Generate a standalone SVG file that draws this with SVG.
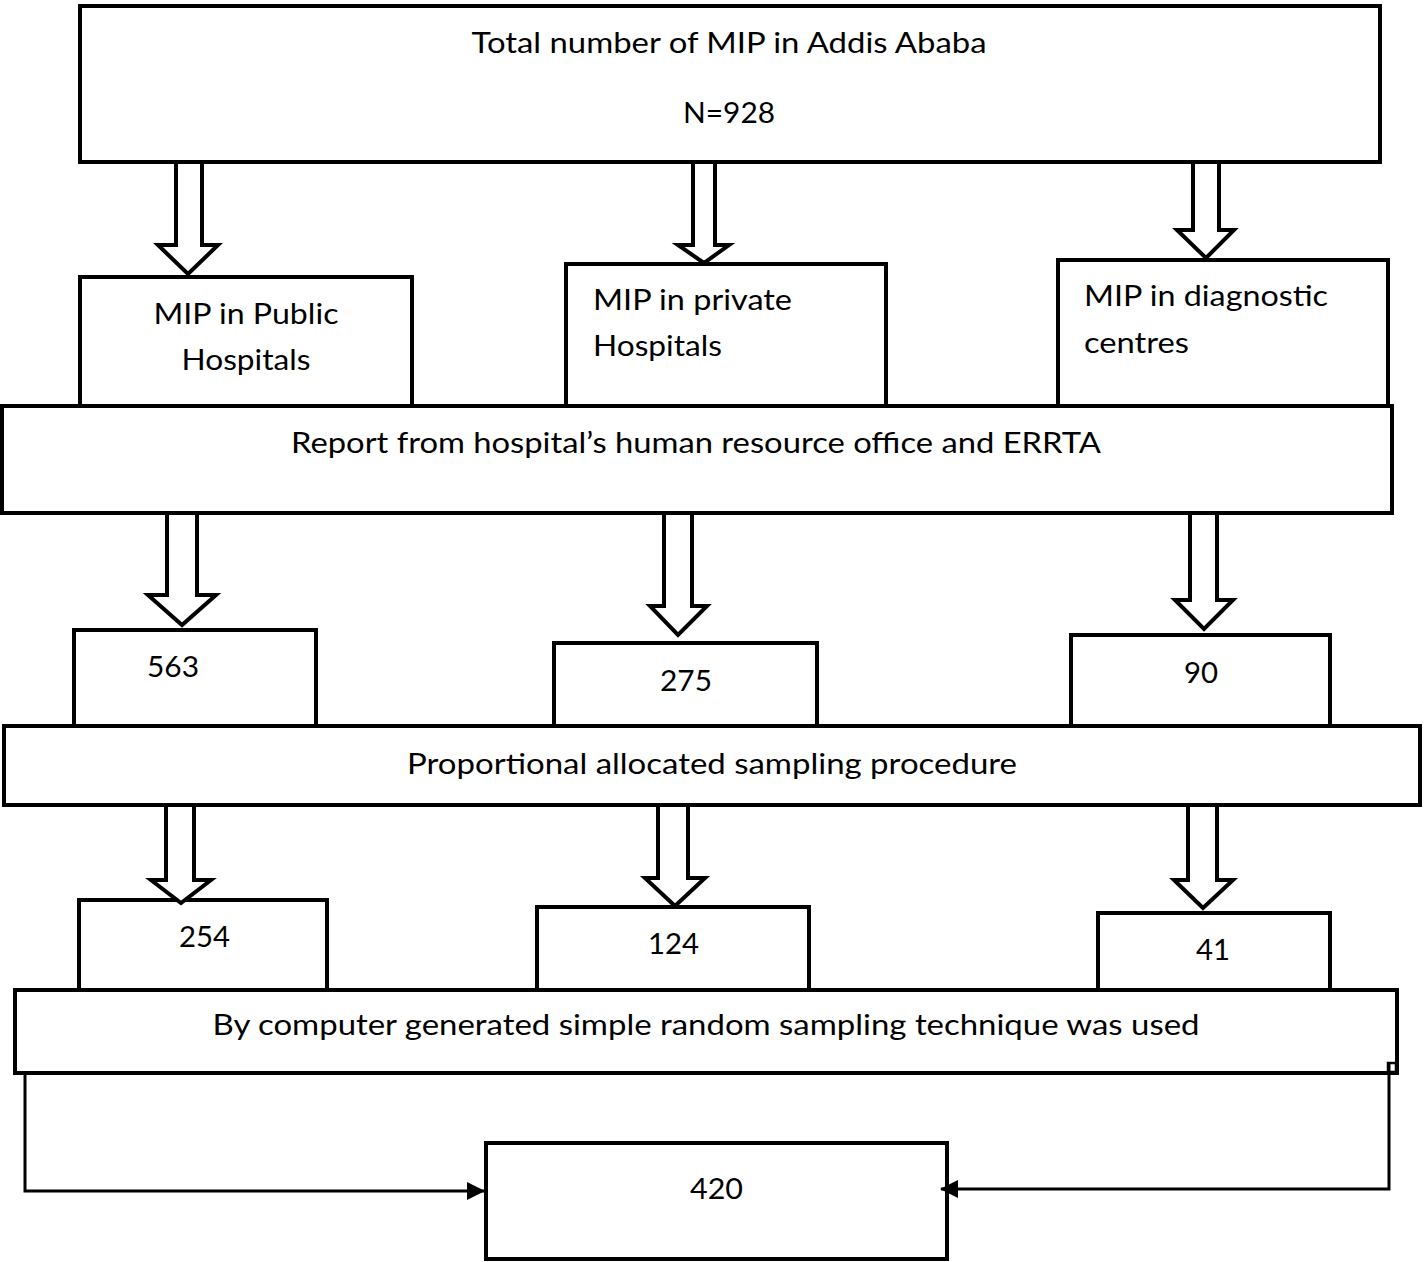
<svg xmlns="http://www.w3.org/2000/svg" width="1425" height="1262" viewBox="0 0 1425 1262">
<style>
.box{fill:#fff;stroke:#000;stroke-width:4}
.blk{fill:#fff;stroke:#000;stroke-width:4;stroke-linejoin:miter}
.ln{fill:none;stroke:#000;stroke-width:3}
text{font-family:Lato,"Open Sans","Liberation Sans",sans-serif;font-size:29px;fill:#000}
.c{text-anchor:middle}
</style>
<defs>
<marker id="ah" markerWidth="18" markerHeight="18" refX="17" refY="9" orient="auto" markerUnits="userSpaceOnUse">
<path d="M0,0 L18,9 L0,18 Z" fill="#000"/>
</marker>
</defs>
<rect width="1425" height="1262" fill="#fff"/>

<g id="top"><rect class="box" x="80" y="6" width="1300" height="156"/>
<text class="c" x="729" y="53" textLength="515" lengthAdjust="spacingAndGlyphs">Total number of MIP in Addis Ababa</text>
<text class="c" x="729" y="123" textLength="92" lengthAdjust="spacingAndGlyphs">N=928</text></g>

<g id="public"><rect class="box" x="80" y="277" width="332" height="130"/>
<text class="c" x="246" y="324" textLength="185" lengthAdjust="spacingAndGlyphs">MIP in Public</text>
<text class="c" x="246" y="370" textLength="129" lengthAdjust="spacingAndGlyphs">Hospitals</text></g>

<g id="private"><rect class="box" x="566" y="264" width="320" height="143"/>
<text x="593" y="310" textLength="199" lengthAdjust="spacingAndGlyphs">MIP in private</text>
<text x="593" y="356" textLength="129" lengthAdjust="spacingAndGlyphs">Hospitals</text></g>

<g id="diagnostic"><rect class="box" x="1058" y="260" width="330" height="146"/>
<text x="1084" y="306" textLength="244" lengthAdjust="spacingAndGlyphs">MIP in diagnostic</text>
<text x="1084" y="353" textLength="105" lengthAdjust="spacingAndGlyphs">centres</text></g>

<g id="report"><rect class="box" x="2" y="406" width="1390" height="107"/>
<text class="c" x="696" y="453" textLength="810" lengthAdjust="spacingAndGlyphs">Report from hospital’s human resource office and ERRTA</text></g>

<g id="n563"><rect class="box" x="74" y="630" width="242" height="97"/>
<text x="147" y="677" textLength="52" lengthAdjust="spacingAndGlyphs">563</text></g>
<g id="n275"><rect class="box" x="554" y="643" width="263" height="84"/>
<text x="660" y="691" textLength="52" lengthAdjust="spacingAndGlyphs">275</text></g>
<g id="n90"><rect class="box" x="1071" y="635" width="259" height="92"/>
<text x="1184" y="683" textLength="34" lengthAdjust="spacingAndGlyphs">90</text></g>

<g id="proportional"><rect class="box" x="4" y="726" width="1416" height="79"/>
<text class="c" x="712" y="774" textLength="610" lengthAdjust="spacingAndGlyphs">Proportional allocated sampling procedure</text></g>

<g id="n254"><rect class="box" x="79" y="900" width="248" height="91"/>
<text x="179" y="947" textLength="51" lengthAdjust="spacingAndGlyphs">254</text></g>
<g id="n124"><rect class="box" x="537" y="907" width="272" height="84"/>
<text x="648" y="954" textLength="51" lengthAdjust="spacingAndGlyphs">124</text></g>
<g id="n41"><rect class="box" x="1098" y="913" width="232" height="78"/>
<text x="1196" y="960" textLength="34" lengthAdjust="spacingAndGlyphs">41</text></g>

<g id="random"><rect class="box" x="15" y="990" width="1382" height="83"/>
<text class="c" x="706" y="1035" textLength="987" lengthAdjust="spacingAndGlyphs">By computer generated simple random sampling technique was used</text></g>

<g id="n420"><rect class="box" x="486" y="1143" width="461" height="116"/>
<text x="690" y="1199" textLength="53" lengthAdjust="spacingAndGlyphs">420</text></g>

<g id="connectors">
<polyline class="blk" points="176,164 176,245 158,245 188,274 218,245 202,245 202,164"/>
<polyline class="blk" points="693,164 693,245 678,245 704,263 729,245 715,245 715,164"/>
<polyline class="blk" points="1193,164 1193,230 1177,230 1206,258 1234,230 1219,230 1219,164"/>

<polyline class="blk" points="167,515 167,595 148,595 182,625 216,595 197,595 197,515"/>
<polyline class="blk" points="664,515 664,606 650,606 678,635 707,606 692,606 692,515"/>
<polyline class="blk" points="1190,515 1190,600 1175,600 1204,629 1233,600 1217,600 1217,515"/>

<polyline class="blk" points="166,807 166,880 151,880 181,903 211,880 194,880 194,807"/>
<polyline class="blk" points="658,807 658,878 645,878 675,906 705,878 688,878 688,807"/>
<polyline class="blk" points="1188,807 1188,880 1174,880 1203,908 1233,880 1217,880 1217,807"/>

<polyline class="ln" points="25,1073 25,1191 484,1191" marker-end="url(#ah)"/>
<rect x="1388" y="1063" width="8" height="9" fill="none" stroke="#000" stroke-width="2.5"/>
<polyline class="ln" points="1389,1063 1389,1189 941,1189" marker-end="url(#ah)"/>
</g>
</svg>
